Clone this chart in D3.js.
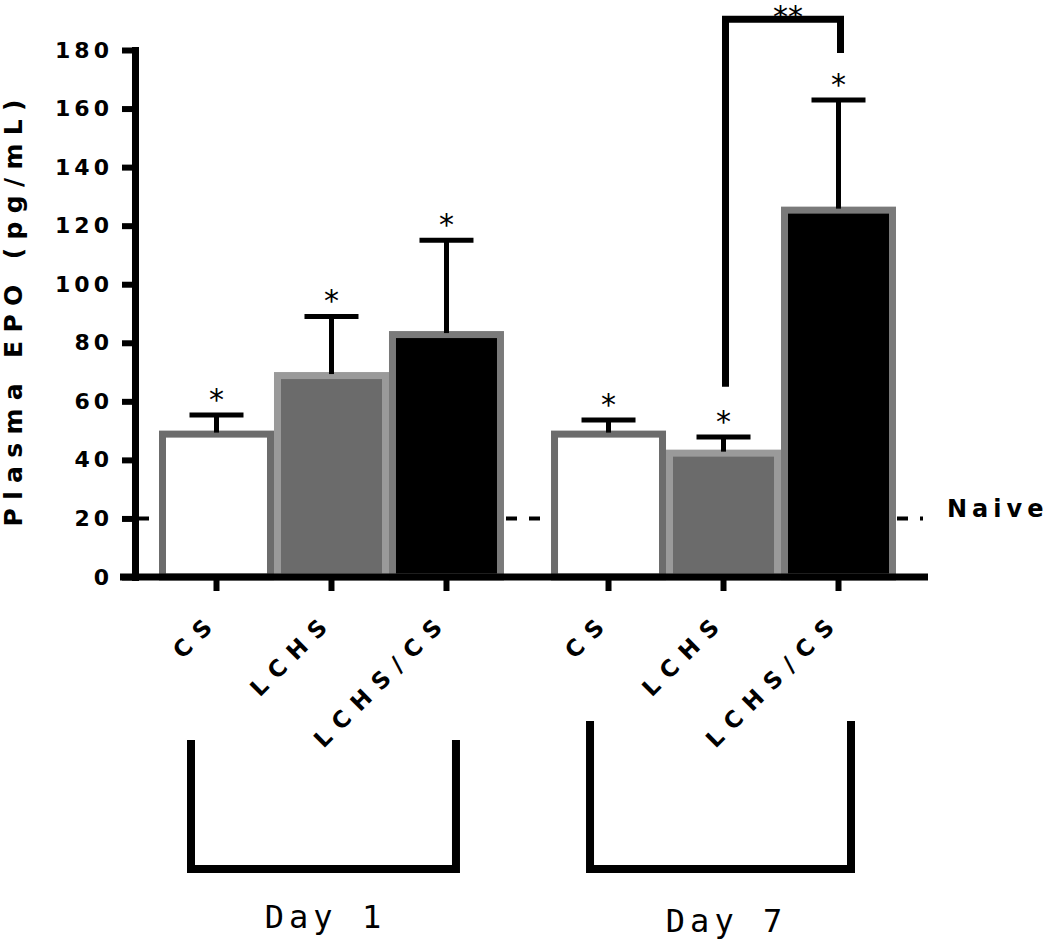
<!DOCTYPE html>
<html lang="en">
<head>
    <meta charset="utf-8">
    <title>Plasma EPO</title>
    <script type="text/javascript" src="https://d3js.org/d3.v7.min.js"></script>
    <style type="text/css">
        body { margin: 0; background: #fff; }
        svg { font-family: "DejaVu Sans", sans-serif; }
    </style>
</head>
<body>
<script type="text/javascript">

    // data
    var groups = ["Day 1", "Day 7"];
    var treatments = ["CS", "LCHS", "LCHS/CS"];
    var means = [50, 70, 84, 50, 43.5, 126.5];      // Day 1 then Day 7
    var sems = [5.3, 19, 31, 3.6, 4.3, 36.4];
    var starLabels = ["*", "*", "*", "*", "*", "*"];
    var yTicks = [0, 20, 40, 60, 80, 100, 120, 140, 160, 180];
    var naiveLevel = 20;
    var sigGroup = "Day 7";
    var sigPair = ["LCHS", "LCHS/CS"];
    var sigLabel = "**";

    var width = 1050, height = 942;
    var fills = {"CS": "#ffffff", "LCHS": "#6b6b6b", "LCHS/CS": "#000000"};
    var borders = {"CS": "#6c6c6c", "LCHS": "#9a9a9a", "LCHS/CS": "#7a7a7a"};

    var bars = [];
    groups.forEach(function(g, gi) {
        treatments.forEach(function(t, ti) {
            var i = gi * treatments.length + ti;
            bars.push({group: g, treatment: t, mean: means[i], sem: sems[i], star: starLabels[i]});
        });
    });

    var svg = d3.select("body").append("svg")
        .attr("width", width)
        .attr("height", height);

    var y = d3.scaleLinear().domain([0, 180]).range([577, 50]);
    var x0 = d3.scaleBand().domain(groups).range([159, 896]).paddingInner(0.12);
    var x1 = d3.scaleBand().domain(treatments).range([0, x0.bandwidth()]);
    function cx(d) { return x0(d.group) + x1(d.treatment) + x1.bandwidth() / 2; }

    var axisX = 135;

    // naive reference line (behind the bars)
    svg.append("line")
        .attr("x1", axisX + 3).attr("x2", x0.range()[1] + 27)
        .attr("y1", y(naiveLevel)).attr("y2", y(naiveLevel))
        .attr("stroke", "#000").attr("stroke-width", 4)
        .attr("stroke-dasharray", "11,12");

    svg.append("text")
        .attr("x", 947).attr("y", y(naiveLevel) - 1)
        .attr("font-size", 24).attr("font-weight", "bold")
        .attr("letter-spacing", 5)
        .text("Naive");

    // bars, border drawn inside the bar outline
    var bw = 7;
    svg.selectAll(".bar")
        .data(bars)
        .enter().append("rect")
        .attr("class", "bar")
        .attr("x", function(d) { return x0(d.group) + x1(d.treatment) + bw / 2; })
        .attr("y", function(d) { return y(d.mean) + bw / 2; })
        .attr("width", x1.bandwidth() - bw)
        .attr("height", function(d) { return y(0) - y(d.mean) - bw / 2; })
        .attr("fill", function(d) { return fills[d.treatment]; })
        .attr("stroke", function(d) { return borders[d.treatment]; })
        .attr("stroke-width", bw);

    // error bars (upper only)
    var err = svg.selectAll(".err")
        .data(bars)
        .enter().append("g")
        .attr("class", "err")
        .attr("stroke", "#000")
        .attr("stroke-width", 5);

    err.append("line")
        .attr("x1", cx).attr("x2", cx)
        .attr("y1", function(d) { return y(d.mean) + 2; })
        .attr("y2", function(d) { return y(d.mean + d.sem); });

    err.append("line")
        .attr("x1", function(d) { return cx(d) - 27; })
        .attr("x2", function(d) { return cx(d) + 27; })
        .attr("y1", function(d) { return y(d.mean + d.sem); })
        .attr("y2", function(d) { return y(d.mean + d.sem); });

    svg.selectAll(".star")
        .data(bars)
        .enter().append("text")
        .attr("class", "star")
        .attr("x", cx)
        .attr("y", function(d) { return y(d.mean + d.sem) - 5; })
        .attr("text-anchor", "middle")
        .attr("font-size", 30)
        .text(function(d) { return d.star; });

    // y axis
    var yAxis = d3.axisLeft(y)
        .tickValues(yTicks)
        .tickSize(13)
        .tickSizeOuter(0)
        .tickPadding(9);

    var yg = svg.append("g")
        .attr("transform", "translate(" + axisX + ",0)")
        .call(yAxis);

    yg.select(".domain")
        .attr("stroke-width", 7)
        .attr("stroke-linecap", "square");
    yg.selectAll(".tick line").attr("stroke-width", 6);
    yg.selectAll(".tick text")
        .attr("font-family", "DejaVu Sans, sans-serif")
        .attr("font-size", 22)
        .attr("font-weight", "bold")
        .attr("letter-spacing", 4)
        .attr("fill", "#000");

    // x axis line and ticks
    svg.append("line")
        .attr("x1", axisX - 15).attr("x2", x0.range()[1] + 32)
        .attr("y1", y(0)).attr("y2", y(0))
        .attr("stroke", "#000").attr("stroke-width", 7);

    svg.selectAll(".xtick")
        .data(bars)
        .enter().append("line")
        .attr("class", "xtick")
        .attr("x1", cx).attr("x2", cx)
        .attr("y1", y(0)).attr("y2", y(0) + 14)
        .attr("stroke", "#000").attr("stroke-width", 6);

    svg.selectAll(".xlabel")
        .data(bars)
        .enter().append("text")
        .attr("class", "xlabel")
        .attr("transform", function(d) {
            return "translate(" + (cx(d) - 3) + "," + (y(0) + 52) + ") rotate(-45)";
        })
        .attr("text-anchor", "end")
        .attr("dx", 10)
        .attr("font-size", 23)
        .attr("font-weight", "bold")
        .attr("letter-spacing", 10)
        .text(function(d) { return d.treatment; });

    // group brackets below
    var bracketTop = {"Day 1": 740, "Day 7": 721};
    var bracketInset = {"Day 1": [32, 48], "Day 7": [39, 45]};
    var bracketBottom = 869;
    svg.selectAll(".bracket")
        .data(groups)
        .enter().append("path")
        .attr("class", "bracket")
        .attr("d", function(g) {
            var l = x0(g) + bracketInset[g][0], r = x0(g) + x0.bandwidth() - bracketInset[g][1];
            return "M" + l + "," + bracketTop[g] + "V" + bracketBottom + "H" + r + "V" + bracketTop[g];
        })
        .attr("fill", "none")
        .attr("stroke", "#000")
        .attr("stroke-width", 8);

    var groupLabelY = {"Day 1": 928, "Day 7": 932};
    svg.selectAll(".glabel")
        .data(groups)
        .enter().append("text")
        .attr("class", "glabel")
        .attr("x", function(g) { return x0(g) + x0.bandwidth() / 2 + (g === "Day 1" ? -6 : 3); })
        .attr("y", function(g) { return groupLabelY[g]; })
        .attr("text-anchor", "middle")
        .attr("font-family", "DejaVu Sans Mono, monospace")
        .attr("font-size", 32)
        .attr("letter-spacing", 5)
        .text(function(g) { return g; });

    // significance bracket between Day 7 LCHS and LCHS/CS
    var sl = x0(sigGroup) + x1(sigPair[0]) + x1.bandwidth() / 2 + 2;
    var sr = x0(sigGroup) + x1(sigPair[1]) + x1.bandwidth() / 2 + 2;
    svg.append("path")
        .attr("d", "M" + sl + "," + y(65) + "V" + y(190.5) + "H" + sr + "V" + y(179))
        .attr("fill", "none")
        .attr("stroke", "#000")
        .attr("stroke-width", 7);

    svg.append("text")
        .attr("x", (sl + sr) / 2 + 5)
        .attr("y", 27)
        .attr("text-anchor", "middle")
        .attr("font-size", 30)
        .text(sigLabel);

    // y axis title
    svg.append("text")
        .attr("transform", "translate(22,313) rotate(-90)")
        .attr("text-anchor", "middle")
        .attr("font-size", 25)
        .attr("font-weight", "bold")
        .attr("textLength", 427)
        .attr("lengthAdjust", "spacing")
        .text("Plasma EPO (pg/mL)");

</script>
</body>
</html>
